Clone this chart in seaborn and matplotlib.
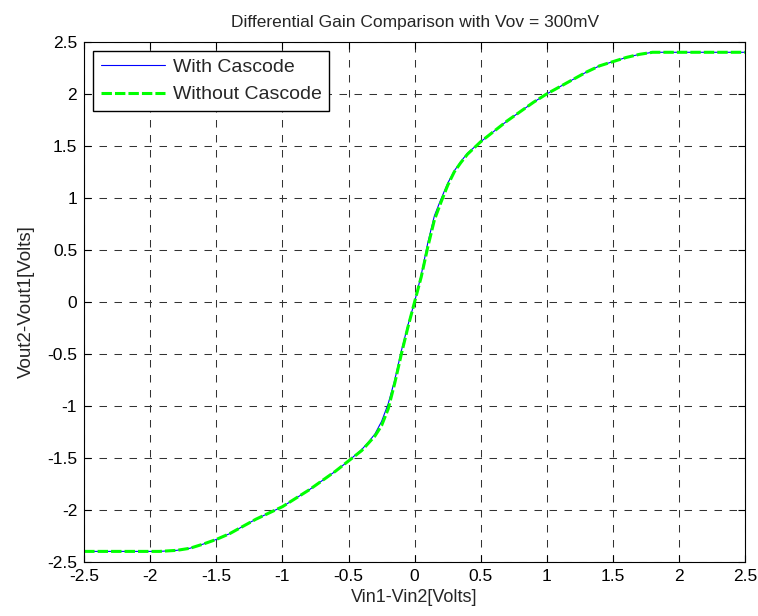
import matplotlib
matplotlib.use("Agg")
import matplotlib.pyplot as plt
import seaborn as sns
from matplotlib.ticker import FuncFormatter

# with cascode (blue, thin solid)
x_cas = [-2.5, -2.0, -1.93, -1.8, -1.7, -1.6, -1.5, -1.4, -1.3, -1.2, -1.1, -1.0,
         -0.9, -0.8, -0.7, -0.6, -0.5, -0.4, -0.35, -0.3, -0.25, -0.2, -0.15, -0.1,
         -0.05, 0.0, 0.05, 0.1, 0.15, 0.2, 0.25, 0.3, 0.35, 0.4, 0.5, 0.6, 0.7, 0.8,
         0.9, 1.0, 1.1, 1.2, 1.3, 1.4, 1.5, 1.6, 1.7, 1.8, 1.9, 2.5]
y_cas = [-2.40, -2.40, -2.40, -2.39, -2.37, -2.33, -2.285, -2.23, -2.16, -2.09, -2.03, -1.97,
         -1.89, -1.81, -1.72, -1.63, -1.53, -1.42, -1.35, -1.27, -1.15, -0.98, -0.75, -0.47,
         -0.22, 0.0, 0.26, 0.57, 0.83, 0.99, 1.14, 1.26, 1.35, 1.43, 1.54, 1.64, 1.74, 1.83,
         1.92, 2.0, 2.07, 2.14, 2.21, 2.27, 2.31, 2.35, 2.38, 2.40, 2.40, 2.40]

# without cascode (green, thick dashed)
x_nocas = [-2.5, -2.0, -1.93, -1.8, -1.7, -1.6, -1.5, -1.4, -1.3, -1.2, -1.1, -1.0,
           -0.9, -0.8, -0.7, -0.6, -0.5, -0.4, -0.35, -0.3, -0.25, -0.2, -0.15, -0.1,
           -0.05, 0.0, 0.05, 0.1, 0.15, 0.2, 0.25, 0.3, 0.35, 0.4, 0.5, 0.6, 0.7, 0.8,
           0.9, 1.0, 1.1, 1.2, 1.3, 1.4, 1.5, 1.6, 1.7, 1.8, 1.9, 2.5]
y_nocas = [-2.40, -2.40, -2.40, -2.39, -2.37, -2.33, -2.285, -2.23, -2.16, -2.09, -2.03, -1.97,
           -1.89, -1.81, -1.72, -1.63, -1.53, -1.43, -1.36, -1.29, -1.19, -1.03, -0.78, -0.50,
           -0.24, 0.0, 0.24, 0.53, 0.79, 0.96, 1.12, 1.25, 1.34, 1.42, 1.54, 1.64, 1.74, 1.83,
           1.92, 2.0, 2.07, 2.14, 2.21, 2.27, 2.31, 2.35, 2.38, 2.40, 2.40, 2.40]

ticks = [-2.5, -2, -1.5, -1, -0.5, 0, 0.5, 1, 1.5, 2, 2.5]

sns.set_style("ticks")
plt.rcParams['font.family'] = ['Liberation Sans', 'DejaVu Sans']
plt.rcParams['axes.unicode_minus'] = False
plt.rcParams['lines.scale_dashes'] = False

fig = plt.figure(figsize=(7.58, 6.16), dpi=100)
ax = fig.add_axes([0.111, 0.088, 0.872, 0.844])

sns.lineplot(x=x_cas, y=y_cas, sort=False, estimator=None, ax=ax,
             color='#0000ff', linewidth=0.8, label='With Cascode')
sns.lineplot(x=x_nocas, y=y_nocas, sort=False, estimator=None, ax=ax,
             color='#00ff00', linewidth=2.2, linestyle=(0, (7.5, 2.2)), label='Without Cascode')

ax.set_xlim(-2.5, 2.5)
ax.set_ylim(-2.5, 2.5)
ax.set_xticks(ticks)
ax.set_yticks(ticks)
fmt = FuncFormatter(lambda v, p: '%g' % v)
ax.xaxis.set_major_formatter(fmt)
ax.yaxis.set_major_formatter(fmt)
ax.tick_params(direction='in', top=True, right=True, length=5, width=0.8,
               labelsize=12.5, colors='black', pad=5)
ax.grid(True, color='#333333', linestyle=(0, (5.4, 5.4)), linewidth=0.75)
for s in ax.spines.values():
    s.set_color('black')
    s.set_linewidth(0.8)

ax.set_title('Differential Gain Comparison with Vov = 300mV', fontsize=12.5, pad=11)
ax.set_xlabel('Vin1-Vin2[Volts]', fontsize=13, labelpad=4)
ax.set_ylabel('Vout2-Vout1[Volts]', fontsize=13.5, labelpad=9)

leg = ax.legend(loc='upper left', fontsize=14, fancybox=False, framealpha=1,
                edgecolor='black', borderaxespad=0.45, handlelength=3.3,
                handletextpad=0.4, labelspacing=0.5, borderpad=0.4)
leg.get_frame().set_linewidth(1.0)

fig.savefig('out.png', dpi=100)
